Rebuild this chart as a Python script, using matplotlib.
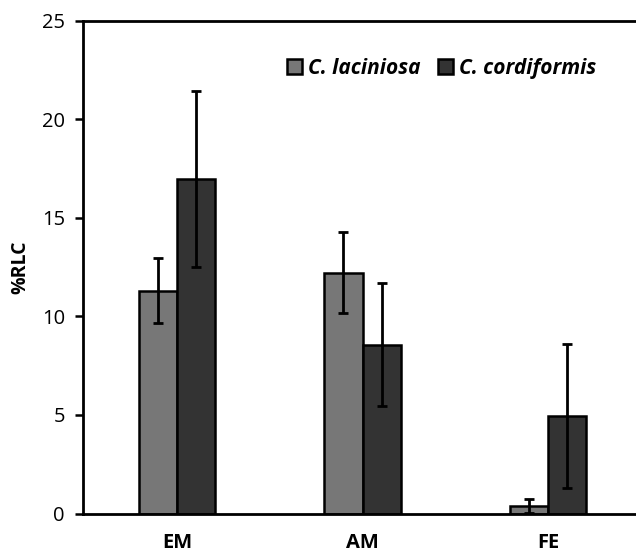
import matplotlib
matplotlib.use("Agg")
import matplotlib.pyplot as plt
import numpy as np
from matplotlib.patches import Patch

categories = ["EM", "AM", "FE"]
series_names = ["C. laciniosa", "C. cordiformis"]
laciniosa = [11.3, 12.2, 0.38]
laciniosa_err = [1.65, 2.05, 0.34]
cordiformis = [16.95, 8.55, 4.95]
cordiformis_err = [4.45, 3.12, 3.65]
colors = ["#777777", "#333333"]

plt.rcParams['font.family'] = ['Open Sans', 'DejaVu Sans']

fig = plt.figure(figsize=(6.36, 5.53), dpi=100)
ax = fig.add_axes([83/636, (553-513.5)/553, (636-83)/636, (513.5-20.5)/553])

x = np.arange(len(categories))
w = 0.207
ekw = dict(elinewidth=2, capthick=2, ecolor='black')
ax.bar(x - w/2, laciniosa, w, color=colors[0], edgecolor='black', linewidth=1.8,
       yerr=laciniosa_err, capsize=3.5, error_kw=ekw, zorder=2)
ax.bar(x + w/2, cordiformis, w, color=colors[1], edgecolor='black', linewidth=1.8,
       yerr=cordiformis_err, capsize=3.5, error_kw=ekw, zorder=2)

ax.set_xlim(-0.507, 2.474)
ax.set_ylim(0, 25)
ax.set_yticks([0, 5, 10, 15, 20, 25])
ax.set_xticks(x)
ax.set_xticklabels(categories, fontsize=14.5, fontweight='bold')
ax.tick_params(axis='x', length=0, pad=14)
ax.tick_params(axis='y', length=6, width=1.8, labelsize=14.5, pad=7)
for s in ['left', 'top', 'bottom']:
    ax.spines[s].set_linewidth(2)
ax.spines['right'].set_visible(False)
ax.set_ylabel('%RLC', fontsize=14, fontweight='bold', labelpad=8)

handles = [Patch(facecolor=c, edgecolor='black', linewidth=1.8) for c in colors]
leg = ax.legend(handles, series_names, loc='center left', bbox_to_anchor=(0.368, 0.903),
                ncol=2, frameon=False, handlelength=0.75, handleheight=0.75,
                handletextpad=0.3, columnspacing=0.8, borderpad=0, borderaxespad=0,
                prop={'style': 'italic', 'weight': 'bold', 'size': 15})

fig.savefig("out.png", dpi=100)
